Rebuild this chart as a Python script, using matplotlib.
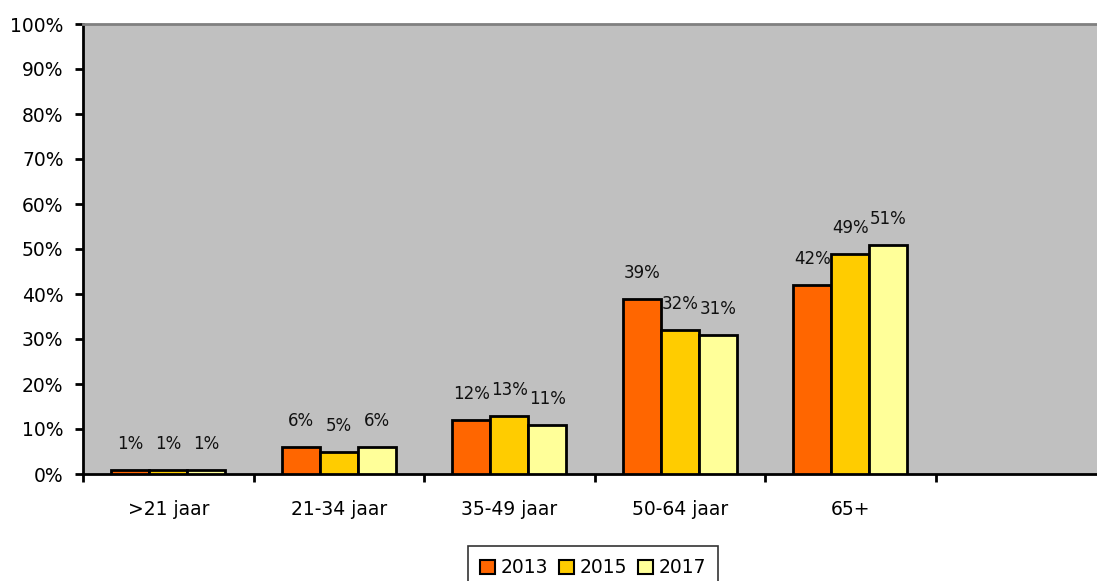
import matplotlib
matplotlib.use("Agg")
import matplotlib.pyplot as plt
import numpy as np

categories = [">21 jaar", "21-34 jaar", "35-49 jaar", "50-64 jaar", "65+"]
years = ["2013", "2015", "2017"]
v2013 = [1, 6, 12, 39, 42]
v2015 = [1, 5, 13, 32, 49]
v2017 = [1, 6, 11, 31, 51]
colors = ["#FF6600", "#FFCC00", "#FFFF99"]

plt.rcParams['font.family'] = ['DejaVu Sans']

W, H = 1097, 581
fig = plt.figure(figsize=(W/100, H/100), dpi=100)
left, right, top, bottom = 83, 1106, 24, 474
ax = fig.add_axes([left/W, 1-bottom/H, (right-left)/W, (bottom-top)/H])
ax.set_facecolor("#C0C0C0")

nslots = 6
x = np.arange(len(categories)) + 0.5
bw = 0.223
series = [v2013, v2015, v2017]
for i, (vals, c, y) in enumerate(zip(series, colors, years)):
    xs = x + (i-1)*bw
    ax.bar(xs, vals, width=bw, color=c, edgecolor="black", linewidth=2, label=y, zorder=3)
    for xi, v in zip(xs, vals):
        ax.annotate(f"{v}%", (xi, v), xytext=(0, 18.7), textcoords="offset points",
                    ha="center", va="center", fontsize=12, color="#111111")

ax.set_xlim(0, nslots)
ax.set_ylim(0, 100)
ax.set_yticks(np.arange(0, 101, 10))
ax.set_yticklabels([f"{t}%" for t in range(0, 101, 10)], fontsize=13.5)
ax.set_xticks(np.arange(0, nslots+1))
ax.set_xticklabels([])
ax.set_xticks(x, minor=True)
ax.set_xticklabels(categories, minor=True, fontsize=13.5)
ax.tick_params(axis='x', which='minor', length=0, pad=18.5)
ax.tick_params(axis='x', which='major', length=6, width=2, direction='out')
ax.tick_params(axis='y', length=6, width=2, direction='out', pad=8)

ax.spines['left'].set_linewidth(2)
ax.spines['bottom'].set_linewidth(2)
ax.spines['top'].set_color("#808080")
ax.spines['top'].set_linewidth(2)
ax.spines['right'].set_visible(False)

leg = fig.legend(loc="upper center", bbox_to_anchor=(593/W, 1-546/H), ncol=3,
                 fontsize=13.5, frameon=True, fancybox=False, edgecolor="black",
                 handlelength=0.8, handleheight=0.8, handletextpad=0.3, columnspacing=0.56,
                 borderpad=0.65, borderaxespad=0)
leg.get_frame().set_linewidth(1.2)
for p in leg.get_patches():
    p.set_linewidth(1.5)

fig.savefig("out.png", dpi=100)
